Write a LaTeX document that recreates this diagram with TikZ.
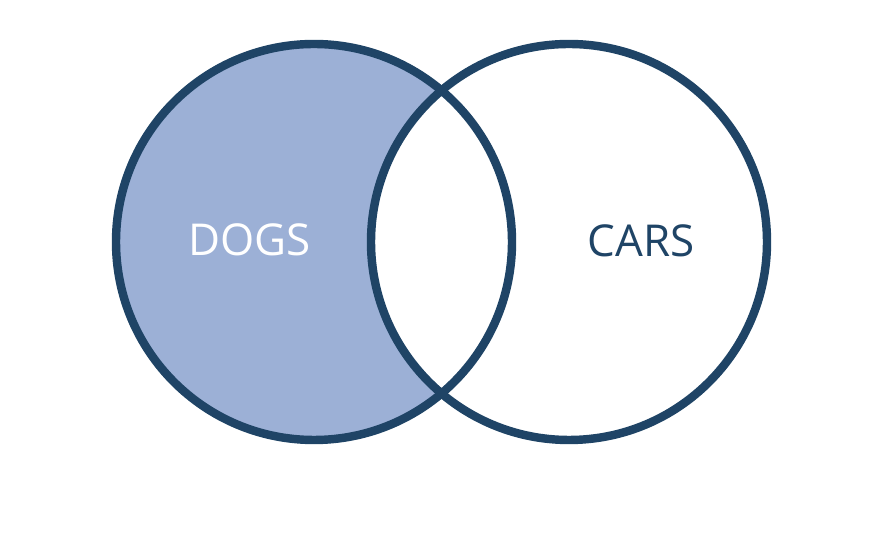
\documentclass[tikz,border=0pt]{standalone}
\usepackage{fontspec}
\setmainfont{Open Sans}
\usepackage{tikz}
\definecolor{ringblue}{HTML}{1F4466}
\definecolor{dogblue}{HTML}{9CB0D6}
\tikzset{ring/.style = {draw = ringblue, line width = 4.8pt}}
\tikzset{setname/.style = {inner sep = 0, font = \fontsize{25}{30}\selectfont}}

\begin{document}
\begin{tikzpicture}
    \useasboundingbox (0, 0) rectangle (17.6, 10.8);

    \fill [dogblue] (6.28, 5.96) circle (3.96);
    \fill [white] (11.38, 5.96) circle (3.96);

    \draw [ring] (6.28, 5.96) circle (3.96);
    \draw [ring] (11.38, 5.96) circle (3.96);

    \node [setname, white] (dogs) at (4.99, 6.0) {DOGS};
    \node [setname, ringblue] (cars) at (12.82, 5.98) {CARS};
  \end{tikzpicture}
\end{document}
